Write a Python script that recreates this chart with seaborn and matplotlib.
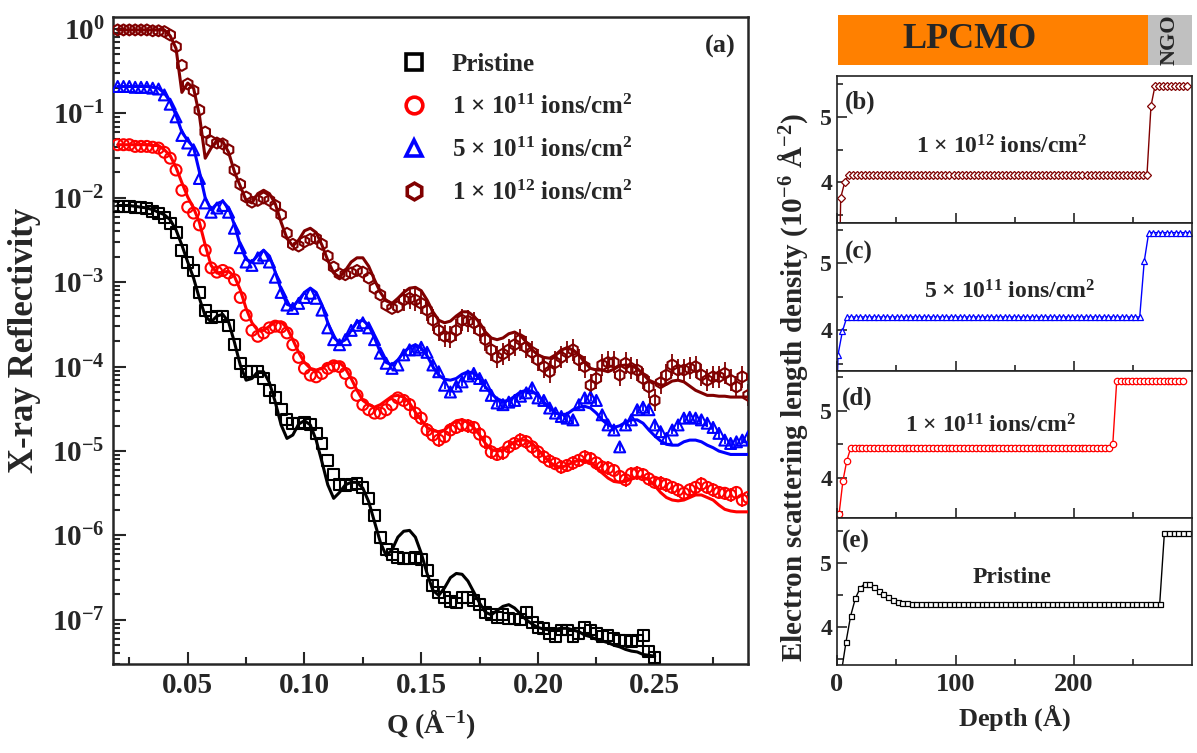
import numpy as np
import pandas as pd
import matplotlib
matplotlib.use('Agg')
import matplotlib.pyplot as plt
from matplotlib.lines import Line2D
from matplotlib.ticker import FixedLocator, LogLocator, MultipleLocator, FormatStrFormatter, NullFormatter
import seaborn as sns

# ---------------- data ----------------
# Q grid of the measurement (1/A): 0.02, 0.0225, ...
q_start = 0.02
q_step = 0.0025

# log10 of X-ray reflectivity, measured points
log_r_pristine = [
    -2.10, -2.10, -2.10, -2.11, -2.11, -2.13, -2.16, -2.19, -2.23, -2.30,
    -2.41, -2.62, -2.77, -2.86, -3.12, -3.33, -3.42, -3.40, -3.41, -3.51,
    -3.74, -3.96, -4.06, -4.06, -4.06, -4.14, -4.28, -4.36, -4.51, -4.63,
    -4.67, -4.67, -4.66, -4.69, -4.79, -4.91, -5.11, -5.28, -5.40, -5.41,
    -5.40, -5.38, -5.43, -5.56, -5.76, -6.02, -6.17, -6.23, -6.26, -6.27,
    -6.27, -6.26, -6.29, -6.41, -6.59, -6.68, -6.73, -6.78, -6.80, -6.74,
    -6.74, -6.77, -6.82, -6.91, -6.94, -6.97, -6.94, -6.98, -6.99, -7.00,
    -6.91, -7.03, -7.09, -7.10, -7.16, -7.20, -7.12, -7.12, -7.20, -7.16,
    -7.09, -7.12, -7.16, -7.20, -7.19, -7.22, -7.24, -7.24, -7.26, -7.24,
    -7.18, -7.38, -7.45]
log_r_1e11 = [
    -1.37, -1.37, -1.37, -1.39, -1.39, -1.39, -1.40, -1.41, -1.46, -1.53,
    -1.67, -1.91, -2.11, -2.18, -2.32, -2.62, -2.83, -2.88, -2.86, -2.89,
    -2.97, -3.18, -3.39, -3.57, -3.64, -3.60, -3.54, -3.52, -3.53, -3.60,
    -3.74, -3.89, -4.02, -4.10, -4.12, -4.08, -4.02, -3.99, -4.00, -4.08,
    -4.19, -4.34, -4.45, -4.51, -4.55, -4.55, -4.51, -4.45, -4.37, -4.40,
    -4.45, -4.55, -4.61, -4.75, -4.81, -4.87, -4.83, -4.75, -4.72, -4.69,
    -4.70, -4.72, -4.80, -4.89, -5.01, -5.04, -5.02, -4.95, -4.91, -4.87,
    -4.89, -4.95, -5.01, -5.07, -5.12, -5.15, -5.19, -5.17, -5.14, -5.11,
    -5.07, -5.09, -5.14, -5.19, -5.20, -5.23, -5.30, -5.34, -5.27, -5.26,
    -5.28, -5.33, -5.37, -5.38, -5.40, -5.43, -5.46, -5.50, -5.46, -5.43,
    -5.39, -5.43, -5.46, -5.49, -5.50, -5.52, -5.49, -5.58, -5.55]
log_r_5e11 = [
    -0.68, -0.68, -0.68, -0.69, -0.69, -0.69, -0.70, -0.71, -0.78, -0.89,
    -1.04, -1.26, -1.35, -1.43, -1.77, -2.06, -2.17, -2.12, -2.09, -2.17,
    -2.36, -2.59, -2.76, -2.80, -2.71, -2.68, -2.76, -2.94, -3.12, -3.27,
    -3.31, -3.25, -3.18, -3.13, -3.19, -3.33, -3.54, -3.68, -3.74, -3.68,
    -3.57, -3.51, -3.48, -3.54, -3.68, -3.84, -3.96, -4.02, -3.98, -3.86,
    -3.80, -3.80, -3.77, -3.83, -3.98, -4.06, -4.22, -4.30, -4.23, -4.18,
    -4.11, -4.08, -4.14, -4.22, -4.34, -4.43, -4.45, -4.42, -4.40, -4.35,
    -4.31, -4.25, -4.37, -4.40, -4.49, -4.55, -4.59, -4.61, -4.63, -4.45,
    -4.37, -4.36, -4.40, -4.57, -4.69, -4.75, -4.95, -4.69, -4.63, -4.51,
    -4.48, -4.51, -4.69, -4.77, -4.85, -4.75, -4.69, -4.61, -4.60, -4.61,
    -4.63, -4.67, -4.72, -4.79, -4.87, -4.91, -4.89, -4.87, -4.83]
log_r_1e12 = [
    -0.01, -0.01, -0.01, -0.01, -0.01, -0.01, -0.02, -0.02, -0.03, -0.07,
    -0.21, -0.43, -0.65, -0.73, -0.96, -1.22, -1.33, -1.35, -1.36, -1.43,
    -1.67, -1.84, -1.99, -2.05, -2.03, -2.00, -2.03, -2.09, -2.20, -2.42,
    -2.55, -2.57, -2.52, -2.49, -2.48, -2.55, -2.69, -2.82, -2.90, -2.91,
    -2.89, -2.86, -2.88, -2.95, -3.07, -3.15, -3.27, -3.31, -3.29, -3.21,
    -3.19, -3.21, -3.25, -3.33, -3.45, -3.57, -3.64, -3.65, -3.57, -3.45,
    -3.46, -3.48, -3.57, -3.68, -3.80, -3.89, -3.85, -3.80, -3.74, -3.68,
    -3.77, -3.83, -3.92, -4.00, -4.06, -3.95, -3.89, -3.83, -3.80, -3.92,
    -4.00, -4.22, -4.14, -3.98, -3.95, -3.95, -4.10, -3.96, -4.02, -4.04,
    -4.14, -4.24, -4.40, -4.19, -4.10, -3.98, -4.04, -4.04, -4.02, -4.00,
    -4.10, -4.16, -4.12, -4.12, -4.08, -4.16, -4.24, -4.12, -4.34]

# log10 of fitted reflectivity on the same Q grid
log_fit_pristine = [
    -2.09, -2.09, -2.09, -2.10, -2.11, -2.12, -2.14, -2.17, -2.20, -2.26,
    -2.38, -2.56, -2.76, -2.95, -3.19, -3.40, -3.47, -3.40, -3.38, -3.47,
    -3.71, -3.98, -4.16, -4.14, -4.06, -4.06, -4.19, -4.42, -4.69, -4.85,
    -4.81, -4.68, -4.64, -4.69, -4.87, -5.13, -5.40, -5.56, -5.49, -5.40,
    -5.37, -5.37, -5.44, -5.60, -5.84, -6.08, -6.24, -6.17, -6.02, -5.95,
    -5.94, -6.02, -6.21, -6.45, -6.65, -6.71, -6.62, -6.50, -6.45, -6.46,
    -6.54, -6.67, -6.80, -6.91, -6.94, -6.89, -6.84, -6.82, -6.86, -6.93,
    -7.00, -7.05, -7.09, -7.11, -7.12, -7.11, -7.10, -7.10, -7.12, -7.14,
    -7.18, -7.20, -7.23, -7.25, -7.27, -7.30, -7.32, -7.35, -7.37, -7.38,
    -7.41, -7.42, -7.43]
log_fit_1e11 = [
    -1.37, -1.37, -1.37, -1.37, -1.37, -1.37, -1.38, -1.38, -1.43, -1.50,
    -1.64, -1.82, -1.99, -2.12, -2.29, -2.56, -2.80, -2.89, -2.88, -2.87,
    -2.93, -3.09, -3.31, -3.48, -3.57, -3.57, -3.52, -3.47, -3.47, -3.54,
    -3.68, -3.83, -3.95, -4.02, -4.04, -4.02, -3.97, -3.95, -3.95, -4.02,
    -4.14, -4.28, -4.40, -4.45, -4.48, -4.45, -4.40, -4.35, -4.34, -4.36,
    -4.43, -4.54, -4.63, -4.72, -4.76, -4.77, -4.75, -4.69, -4.64, -4.63,
    -4.66, -4.72, -4.81, -4.91, -4.98, -5.00, -4.99, -4.94, -4.89, -4.87,
    -4.87, -4.91, -4.98, -5.06, -5.13, -5.18, -5.19, -5.17, -5.13, -5.11,
    -5.11, -5.13, -5.19, -5.26, -5.32, -5.36, -5.37, -5.36, -5.33, -5.31,
    -5.31, -5.34, -5.41, -5.49, -5.55, -5.58, -5.59, -5.58, -5.55, -5.52,
    -5.52, -5.55, -5.58, -5.64, -5.69, -5.71, -5.72, -5.72, -5.72]
log_fit_5e11 = [
    -0.68, -0.68, -0.68, -0.68, -0.68, -0.68, -0.69, -0.70, -0.76, -0.86,
    -1.02, -1.22, -1.32, -1.40, -1.69, -2.00, -2.14, -2.07, -2.04, -2.12,
    -2.32, -2.56, -2.73, -2.76, -2.68, -2.62, -2.69, -2.88, -3.09, -3.26,
    -3.29, -3.21, -3.12, -3.07, -3.12, -3.27, -3.48, -3.65, -3.72, -3.68,
    -3.57, -3.47, -3.45, -3.51, -3.66, -3.83, -3.95, -3.98, -3.92, -3.83,
    -3.77, -3.74, -3.78, -3.87, -4.00, -4.10, -4.15, -4.16, -4.14, -4.09,
    -4.06, -4.08, -4.14, -4.24, -4.32, -4.38, -4.41, -4.40, -4.35, -4.30,
    -4.28, -4.29, -4.34, -4.42, -4.49, -4.55, -4.57, -4.56, -4.51, -4.48,
    -4.47, -4.49, -4.55, -4.63, -4.69, -4.72, -4.70, -4.66, -4.63, -4.63,
    -4.67, -4.75, -4.82, -4.88, -4.92, -4.93, -4.93, -4.89, -4.87, -4.87,
    -4.89, -4.93, -4.96, -5.00, -5.02, -5.04, -5.04, -5.04, -5.04]
log_fit_1e12 = [
    -0.01, -0.01, -0.01, -0.01, -0.01, -0.01, -0.01, -0.01, -0.01, -0.08,
    -0.23, -0.75, -0.64, -0.70, -1.02, -1.53, -1.41, -1.32, -1.33, -1.46,
    -1.69, -1.86, -2.03, -2.06, -1.95, -1.91, -1.95, -2.07, -2.29, -2.48,
    -2.57, -2.50, -2.39, -2.36, -2.41, -2.56, -2.74, -2.89, -2.94, -2.86,
    -2.76, -2.71, -2.71, -2.81, -2.97, -3.12, -3.22, -3.25, -3.19, -3.12,
    -3.07, -3.06, -3.10, -3.21, -3.35, -3.45, -3.48, -3.46, -3.40, -3.35,
    -3.35, -3.40, -3.48, -3.59, -3.66, -3.68, -3.66, -3.61, -3.59, -3.63,
    -3.71, -3.80, -3.86, -3.89, -3.90, -3.86, -3.80, -3.78, -3.80, -3.86,
    -3.95, -4.02, -4.04, -4.04, -4.06, -4.03, -3.99, -3.98, -3.99, -4.02,
    -4.09, -4.16, -4.19, -4.22, -4.21, -4.17, -4.16, -4.18, -4.23, -4.28,
    -4.31, -4.34, -4.34, -4.35, -4.35, -4.36, -4.36, -4.36, -4.36]

# size of the error bars (in decades), shown at high Q
err_pristine, err_1e11, err_5e11, err_1e12 = 0.06, 0.08, 0.05, 0.13
err_from_q = 0.14

# electron scattering length density profiles (1e-6 A^-2) vs depth (A)
sld_1e12 = [0.0, 3.76, 4.00] + [4.11] * 75 + [5.17] + [5.48] * 9
sld_5e11 = [0.0, 3.63, 3.99] + [4.20] * 66 + [5.03] + [5.46] * 10
sld_1e11 = [0.0, 3.46, 3.96, 4.26] + [4.45] * 67 + [4.51] + [5.45] * 18
sld_pristine = [1.5, 3.28, 3.76, 4.17, 4.44, 4.60, 4.67, 4.67, 4.62, 4.56,
                4.51, 4.46, 4.42, 4.39, 4.375, 4.365, 4.36] + [4.355] * 53 + [5.46] * 6
depth0_1e12, dstep_1e12 = -0.3, 3.4
depth0_5e11, dstep_5e11 = -3.0, 3.8
depth0_1e11, dstep_1e11 = -1.6, 3.3
depth0_pristine, dstep_pristine = -0.3, 3.95
lpcmo_thickness = 262.4
substrate_end = 299.5

labels = ['Pristine',
          r'1 $\times$ 10$^{11}$ ions/cm$^{2}$',
          r'5 $\times$ 10$^{11}$ ions/cm$^{2}$',
          r'1 $\times$ 10$^{12}$ ions/cm$^{2}$']

# ---------------- style ----------------
sns.set_style('ticks')
plt.rcParams['font.family'] = ['Liberation Serif', 'DejaVu Serif']
plt.rcParams['font.weight'] = 'bold'
plt.rcParams['mathtext.fontset'] = 'custom'
plt.rcParams['mathtext.rm'] = 'Liberation Serif:bold'
plt.rcParams['mathtext.bf'] = 'Liberation Serif:bold'
plt.rcParams['mathtext.it'] = 'Liberation Serif:italic:bold'
plt.rcParams['mathtext.default'] = 'rm'

c_black, c_red, c_blue, c_brown = 'black', '#ff0000', '#0000ff', '#800000'

fig = plt.figure(figsize=(11.97, 7.53), dpi=100)

# ---------------- (a) reflectivity ----------------
ax = fig.add_axes([0.0944, 0.1182, 0.5306, 0.8592])
ax.set_yscale('log')

curves = [
    (log_r_pristine, log_fit_pristine, c_black, 's', err_pristine),
    (log_r_1e11, log_fit_1e11, c_red, 'o', err_1e11),
    (log_r_5e11, log_fit_5e11, c_blue, '^', err_5e11),
    (log_r_1e12, log_fit_1e12, c_brown, 'h', err_1e12),
]
for log_r, log_fit, col, mk, err in curves:
    q = q_start + q_step * np.arange(len(log_r))
    df = pd.DataFrame({'Q': q, 'R': 10 ** np.array(log_r), 'fit': 10 ** np.array(log_fit)})
    hi_q = df[df['Q'] >= err_from_q]
    ax.errorbar(hi_q['Q'], hi_q['R'],
                yerr=[hi_q['R'] * (1 - 10 ** -err), hi_q['R'] * (10 ** err - 1)],
                fmt='none', ecolor=col, elinewidth=1.3, capsize=0, zorder=2)
    sns.scatterplot(data=df, x='Q', y='R', ax=ax, marker=mk, s=62,
                    facecolors='none', edgecolor=col, linewidth=1.5, zorder=3)
    sns.lineplot(data=df, x='Q', y='fit', ax=ax, color=col, lw=2.2,
                 estimator=None, sort=False, zorder=4)

ax.set_xlim(0.018, 0.29)
ax.set_ylim(3e-8, 1.39)
ax.xaxis.set_major_locator(MultipleLocator(0.05))
ax.xaxis.set_minor_locator(MultipleLocator(0.025))
ax.xaxis.set_major_formatter(FormatStrFormatter('%.2f'))
decades = [0, -1, -2, -3, -4, -5, -6, -7]
ax.yaxis.set_major_locator(FixedLocator([10.0 ** d for d in decades]))
ax.set_yticklabels([r'10$^{%d}$' % d for d in decades])
ax.yaxis.set_minor_locator(LogLocator(base=10, subs=np.arange(2, 10), numticks=20))
ax.yaxis.set_minor_formatter(NullFormatter())
ax.tick_params(which='both', direction='in', top=False, right=False, width=1.5)
ax.tick_params(which='major', length=9, labelsize=21, pad=6)
ax.tick_params(which='minor', length=5)
for s in ax.spines.values():
    s.set_linewidth(1.8)
ax.set_xlabel(r'Q ($\mathrm{\AA}^{-1}$)', fontsize=20, fontweight='bold', labelpad=6)
ax.set_ylabel('X-ray Reflectivity', fontsize=25, fontweight='bold', labelpad=8)
ax.text(0.98, 0.972, '(a)', transform=ax.transAxes, ha='right', va='top', fontsize=19)

handles = [Line2D([], [], ls='none', marker=mk, ms=12, mfc='none', mec=col, mew=2.6)
           for _, _, col, mk, _ in curves]
ax.legend(handles, labels, loc='upper left', bbox_to_anchor=(0.455, 0.945),
          frameon=False, fontsize=18, handlelength=1.0, handletextpad=1.0,
          labelspacing=0.75, borderpad=0, borderaxespad=0)

# ---------------- (b)-(e) SLD profiles ----------------
px_left, px_w = 837 / 1197, 355 / 1197
pan_h = 147.25 / 753
pan_bottom = 1 - 665 / 753
profiles = [
    ('(b)', labels[3], sld_1e12, depth0_1e12, dstep_1e12, c_brown, 'D', 3.8, (3.37, 5.63), (0.023, 0.823), (0.465, 0.517)),
    ('(c)', labels[2], sld_5e11, depth0_5e11, dstep_5e11, c_blue, '^', 4.6, (3.40, 5.60), (0.023, 0.800), (0.485, 0.531)),
    ('(d)', labels[1], sld_1e11, depth0_1e11, dstep_1e11, c_red, 'o', 4.6, (3.41, 5.60), (0.014, 0.810), (0.434, 0.626)),
    ('(e)', 'Pristine', sld_pristine, depth0_pristine, dstep_pristine, c_black, 's', 3.6, (3.40, 5.70), (0.014, 0.837), (0.493, 0.592)),
]
for i, (tag, lab, sld, d0, dstep, col, mk, ms, ylim, tag_xy, lab_xy) in enumerate(profiles):
    axp = fig.add_axes([px_left, pan_bottom + (3 - i) * pan_h, px_w, pan_h])
    depth = d0 + dstep * np.arange(len(sld))
    sns.lineplot(x=depth, y=sld, ax=axp, color=col, lw=1.0, marker=mk, markersize=ms,
                 markerfacecolor='white', markeredgecolor=col, markeredgewidth=0.9,
                 estimator=None, sort=False)
    axp.set_xlim(0, substrate_end)
    axp.set_ylim(*ylim)
    axp.xaxis.set_major_locator(MultipleLocator(100))
    axp.xaxis.set_minor_locator(MultipleLocator(50))
    axp.yaxis.set_major_locator(FixedLocator([4, 5]))
    axp.yaxis.set_minor_locator(FixedLocator([3.5, 4.5, 5.5]))
    axp.tick_params(which='both', direction='in', top=False, right=False, width=1.2)
    axp.tick_params(which='major', length=7, labelsize=17)
    axp.tick_params(which='minor', length=4)
    axp.tick_params(axis='x', labelsize=19, pad=6)
    for s in axp.spines.values():
        s.set_linewidth(1.2)
        s.set_color('#222222')
    if i < 3:
        axp.tick_params(labelbottom=False)
    else:
        axp.set_xlabel(r'Depth ($\mathrm{\AA}$)', fontsize=19, fontweight='bold', labelpad=4)
    axp.text(*tag_xy, tag, transform=axp.transAxes, ha='left', va='center', fontsize=18)
    axp.text(*lab_xy, lab, transform=axp.transAxes, ha='center', va='center', fontsize=17)

fig.text(0.6625, 0.485, r'Electron scattering length density (10$^{-6}$ $\mathrm{\AA}^{-2}$)',
         rotation=90, ha='center', va='center', fontsize=21, fontweight='bold')

# layer banner
axb = fig.add_axes([838 / 1197, 1 - 65 / 753, 354 / 1197, 50 / 753])
axb.axvspan(0, lpcmo_thickness, color='#ff8000', lw=0)
axb.axvspan(lpcmo_thickness, substrate_end, color='#c0c0c0', lw=0)
axb.set_xlim(0, substrate_end)
axb.set_ylim(0, 1)
axb.axis('off')
axb.text(111, 0.5, 'LPCMO', ha='center', va='center', fontsize=26, fontweight='bold')
axb.text((lpcmo_thickness + substrate_end) / 2, 0.5, 'NGO', rotation=90,
         ha='center', va='center', fontsize=16, fontweight='bold')

fig.savefig('out.png', dpi=100)
